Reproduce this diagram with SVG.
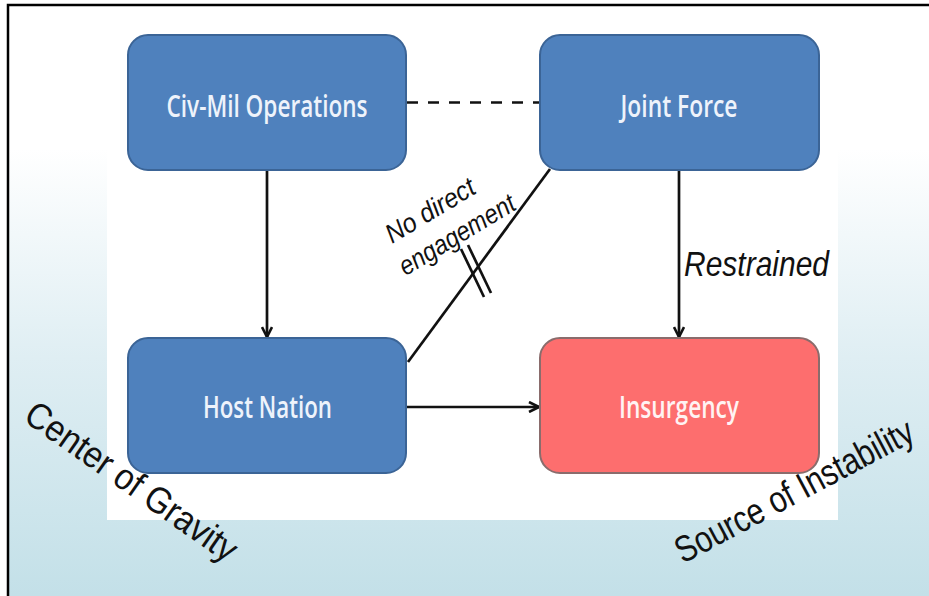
<svg xmlns="http://www.w3.org/2000/svg" width="929" height="596" viewBox="0 0 929 596">
<defs>
<linearGradient id="bg" x1="0" y1="0" x2="0" y2="596" gradientUnits="userSpaceOnUse">
<stop offset="0" stop-color="#ffffff"/>
<stop offset="0.25" stop-color="#ffffff"/>
<stop offset="0.6" stop-color="#dfeef3"/>
<stop offset="1" stop-color="#c3e0e8"/>
</linearGradient>
<marker id="arr" viewBox="0 0 12 12" refX="11" refY="6" markerWidth="12" markerHeight="12" markerUnits="userSpaceOnUse" orient="auto">
<path d="M1,1 L11,6 L1,11" fill="none" stroke="#111" stroke-width="2.6"/>
</marker>
</defs>
<style>
.blue { fill:#4f81bd; stroke:#3b6496; stroke-width:2; }
.red { fill:#fd6e6e; stroke:#8a6c6c; stroke-width:2; }
.lbl { font-family:"Open Sans","Liberation Sans",sans-serif; font-size:30px; font-weight:600; fill:#eef3fb; text-anchor:middle; }
.lbl-r { fill:#fff3f3; }
.line { stroke:#111; stroke-width:2.7; fill:none; }
.it { font-family:"Liberation Sans",Arial,sans-serif; font-style:italic; fill:#111; }
.note { font-family:"Liberation Sans",Arial,sans-serif; fill:#111; }
</style>
<rect x="0" y="0" width="929" height="596" fill="#ffffff"/>
<rect x="9" y="6" width="920" height="590" fill="url(#bg)"/>
<rect x="107" y="6" width="731" height="514" fill="#ffffff"/>
<path d="M8,596 V5 H929" fill="none" stroke="#000" stroke-width="2.5"/>

<g id="connectors">
<line class="line" x1="407" y1="102.5" x2="540" y2="102.5" stroke-width="3.5" stroke-dasharray="11 10"/>
<line class="line" x1="267" y1="170" x2="267" y2="337" marker-end="url(#arr)"/>
<line class="line" x1="679" y1="170" x2="679" y2="337" marker-end="url(#arr)"/>
<line class="line" x1="407" y1="407" x2="539" y2="407" stroke-width="3" marker-end="url(#arr)"/>
<line class="line" x1="408" y1="362" x2="550" y2="169"/>
<line class="line" x1="461" y1="249" x2="484" y2="297"/>
<line class="line" x1="468" y1="245" x2="491" y2="293"/>
</g>

<g id="node-civmil">
<rect class="blue" x="128" y="35" width="278" height="135" rx="20"/>
<text class="lbl" x="267" y="117" textLength="201" lengthAdjust="spacingAndGlyphs">Civ-Mil Operations</text>
</g>
<g id="node-jointforce">
<rect class="blue" x="540" y="35" width="279" height="135" rx="20"/>
<text class="lbl" x="679" y="117" textLength="117" lengthAdjust="spacingAndGlyphs">Joint Force</text>
</g>
<g id="node-hostnation">
<rect class="blue" x="128" y="338" width="278" height="135" rx="20"/>
<text class="lbl" x="267.5" y="418" textLength="129" lengthAdjust="spacingAndGlyphs">Host Nation</text>
</g>
<g id="node-insurgency">
<rect class="red" x="540" y="338" width="279" height="135" rx="20"/>
<text class="lbl lbl-r" x="679" y="418" textLength="120" lengthAdjust="spacingAndGlyphs">Insurgency</text>
</g>

<g id="label-nodirect" transform="translate(392,244) rotate(-31)">
<text class="it" x="0" y="0" font-size="27" textLength="100" lengthAdjust="spacingAndGlyphs">No direct</text>
<text class="it" x="-5" y="34.5" font-size="27" textLength="131" lengthAdjust="spacingAndGlyphs">engagement</text>
</g>
<text class="it" x="684" y="276" font-size="35" textLength="145" lengthAdjust="spacingAndGlyphs">Restrained</text>
<text class="note" font-size="37" transform="translate(22,420) rotate(35)" textLength="250" lengthAdjust="spacingAndGlyphs">Center of Gravity</text>
<text class="note" font-size="37" transform="translate(683,564) rotate(-28)" textLength="265" lengthAdjust="spacingAndGlyphs">Source of Instability</text>
</svg>
